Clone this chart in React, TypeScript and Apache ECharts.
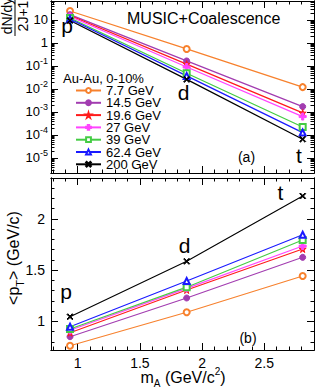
import React, { useEffect, useRef } from "react";
import * as echarts from "echarts";

const FONT = "'Liberation Sans', Arial, Helvetica, sans-serif";

// ---- data ----
const masses = [0.938, 1.876, 2.809]; // p, d, t  (GeV/c^2)
const energies = ["7.7 GeV", "14.5 GeV", "19.6 GeV", "27 GeV", "39 GeV", "62.4 GeV", "200 GeV"];
const colors = ["#f7812d", "#a23cb0", "#ff1a1a", "#ff44ff", "#44cc44", "#1a1aff", "#000000"];

// dN/dy / (2J+1)
const yield77 = [24.6, 0.55, 0.012];
const yield145 = [17.0, 0.165, 0.0017];
const yield196 = [15.7, 0.12, 0.0009];
const yield27 = [14.2, 0.09, 0.00063];
const yield39 = [12.2, 0.048, 0.00022];
const yield624 = [11.0, 0.037, 0.000126];
const yield200 = [9.5, 0.026, 0.000065];

// <pT> (GeV/c)
const pt77 = [0.762, 1.088, 1.442];
const pt145 = [0.85, 1.228, 1.625];
const pt196 = [0.889, 1.306, 1.706];
const pt27 = [0.912, 1.322, 1.735];
const pt39 = [0.925, 1.334, 1.794];
const pt624 = [0.947, 1.394, 1.846];
const pt200 = [1.045, 1.586, 2.224];

const yields = [yield77, yield145, yield196, yield27, yield39, yield624, yield200];
const pts = [pt77, pt145, pt196, pt27, pt39, pt624, pt200];

// ticks
const xMajorTicks = [1, 1.5, 2, 2.5];
const ptMajorTicks = [1, 1.5, 2];
const logMajorTicks = [1e-5, 1e-4, 1e-3, 1e-2, 1e-1, 1, 10];

const X_MIN = 0.785, X_MAX = 2.9;
const Y_LOG_MIN = 2.2e-6, Y_LOG_MAX = 67;
const PT_MIN = 0.72, PT_MAX = 2.4;

const range = (a: number, b: number, s: number) => {
  const out: number[] = [];
  for (let v = a; v <= b + 1e-9; v += s) out.push(Math.round(v * 1000) / 1000);
  return out;
};
const xMinorTicks = range(0.8, 2.9, 0.1);
const ptMinorTicks = range(0.8, 2.4, 0.1);
const logMinorTicks: number[] = [];
for (let e = -6; e <= 1; e++)
  for (let k = 2; k <= 9; k++) {
    const v = Number((k * Math.pow(10, e)).toPrecision(3));
    if (v >= Y_LOG_MIN && v <= Y_LOG_MAX) logMinorTicks.push(v);
  }

const STAR = "path://M50,0 L61,35 L98,35 L68,57 L79,91 L50,70 L21,91 L32,57 L2,35 L39,35 Z";
const PLUS = "path://M35,0 H65 V35 H100 V65 H65 V100 H35 V65 H0 V35 H35 Z";
const XMARK = "path://M0,12 L12,0 L50,38 L88,0 L100,12 L62,50 L100,88 L88,100 L50,62 L12,100 L0,88 L38,50 Z";
const symbols = ["emptyCircle", "circle", STAR, PLUS, "emptyRect", "emptyTriangle", XMARK];
const symbolSizes = [6, 6, 7, 7, 6, 6, 6];

function tickAxis(
  grid: number, position: string, type: string, min: number, max: number,
  ticks: number[], len: number, label?: any
) {
  const ax: any = {
    type, gridIndex: grid, position, min, max,
    axisLine: { show: true, onZero: false, lineStyle: { color: "#000", width: 1 } },
    axisTick: { show: true, inside: true, length: len, customValues: ticks, lineStyle: { color: "#000", width: 1 } },
    axisLabel: label ? label : { show: false },
    splitLine: { show: false },
    minorTick: { show: false },
    minorSplitLine: { show: false },
  };
  if (type === "log") ax.logBase = 10;
  return ax;
}

const xLabel = {
  show: true, customValues: xMajorTicks, margin: 6, fontSize: 14, color: "#000", fontFamily: FONT,
  formatter: (v: number) => String(v),
};
const ptLabel = {
  show: true, customValues: ptMajorTicks, margin: 6, fontSize: 14, color: "#000", fontFamily: FONT,
  formatter: (v: number) => String(v),
};
const logLabel = {
  show: true, customValues: logMajorTicks, margin: 3, color: "#000", fontFamily: FONT,
  formatter: (v: number) => {
    const e = Math.round(Math.log10(v));
    if (e === 1) return "{b|10}";
    if (e === 0) return "{b|1}";
    return "{b|10}{s|" + e + "}";
  },
  rich: {
    b: { fontSize: 13, padding: [3, 0, 3, 0], fontFamily: FONT, color: "#000" },
    s: { fontSize: 9, verticalAlign: "top", fontFamily: FONT, color: "#000" },
  },
};

const xAxes = [
  // top panel
  tickAxis(0, "bottom", "value", X_MIN, X_MAX, xMinorTicks, 3.5),
  tickAxis(0, "bottom", "value", X_MIN, X_MAX, xMajorTicks, 7),
  tickAxis(0, "top", "value", X_MIN, X_MAX, xMinorTicks, 3.5),
  tickAxis(0, "top", "value", X_MIN, X_MAX, xMajorTicks, 7),
  // bottom panel
  tickAxis(1, "bottom", "value", X_MIN, X_MAX, xMinorTicks, 3.5),
  tickAxis(1, "bottom", "value", X_MIN, X_MAX, xMajorTicks, 7, xLabel),
  tickAxis(1, "top", "value", X_MIN, X_MAX, xMinorTicks, 3.5),
  tickAxis(1, "top", "value", X_MIN, X_MAX, xMajorTicks, 7),
];
const yAxes = [
  tickAxis(0, "left", "log", Y_LOG_MIN, Y_LOG_MAX, logMinorTicks, 3.5),
  tickAxis(0, "left", "log", Y_LOG_MIN, Y_LOG_MAX, logMajorTicks, 7, logLabel),
  tickAxis(0, "right", "log", Y_LOG_MIN, Y_LOG_MAX, logMinorTicks, 3.5),
  tickAxis(0, "right", "log", Y_LOG_MIN, Y_LOG_MAX, logMajorTicks, 7),
  tickAxis(1, "left", "value", PT_MIN, PT_MAX, ptMinorTicks, 3.5),
  tickAxis(1, "left", "value", PT_MIN, PT_MAX, ptMajorTicks, 7, ptLabel),
  tickAxis(1, "right", "value", PT_MIN, PT_MAX, ptMinorTicks, 3.5),
  tickAxis(1, "right", "value", PT_MIN, PT_MAX, ptMajorTicks, 7),
];

const series: any[] = [];
energies.forEach((name, i) => {
  series.push({
    type: "line", name, xAxisIndex: 0, yAxisIndex: 0,
    data: masses.map((m, j) => [m, yields[i][j]]),
    symbol: symbols[i], symbolSize: symbolSizes[i],
    lineStyle: { color: colors[i], width: 1.3 },
    itemStyle: { color: colors[i], borderColor: colors[i], borderWidth: 1 },
    emphasis: { disabled: true }, silent: true,
  });
});
energies.forEach((name, i) => {
  series.push({
    type: "line", name, xAxisIndex: 4, yAxisIndex: 4,
    data: masses.map((m, j) => [m, pts[i][j]]),
    symbol: symbols[i], symbolSize: symbolSizes[i],
    lineStyle: { color: colors[i], width: 1.1 },
    itemStyle: { color: colors[i], borderColor: colors[i], borderWidth: 1 },
    emphasis: { disabled: true }, silent: true,
  });
});

const txt = (text: string, x: number, y: number, fontSize: number, align = "center") => ({
  type: "text", x, y, silent: true,
  style: { text, fontSize, fontFamily: FONT, fill: "#000", align, verticalAlign: "middle" },
});

const graphic: any[] = [
  txt("MUSIC+Coalescence", 127, 18, 16, "left"),
  txt("Au-Au, 0-10%", 63, 78, 13, "left"),
  txt("p", 67, 25.5, 21),
  txt("d", 183.5, 92.5, 21),
  txt("t", 299, 155, 21),
  txt("(a)", 246.5, 157, 14),
  txt("p", 66, 291, 21),
  txt("d", 184.5, 245, 21),
  txt("t", 280.5, 192.5, 21),
  txt("(b)", 248, 338, 14),
  {
    type: "group", x: 15, y: 16, rotation: Math.PI / 2, silent: true,
    children: [
      { type: "text", x: 0, y: -1, style: { text: "dN/dy", fontSize: 14, fontFamily: FONT, fill: "#000", align: "center", verticalAlign: "bottom" } },
      { type: "line", shape: { x1: -20, y1: 0, x2: 20, y2: 0 }, style: { stroke: "#000", lineWidth: 1 } },
      { type: "text", x: 0, y: 1, style: { text: "2J+1", fontSize: 14, fontFamily: FONT, fill: "#000", align: "center", verticalAlign: "top" } },
    ],
  },
  {
    type: "text", x: 13, y: 258, rotation: Math.PI / 2, silent: true,
    style: {
      text: "{b|<p}{sub|T}{b|> (GeV/c)}", align: "center", verticalAlign: "middle", fontFamily: FONT, fill: "#000",
      rich: {
        b: { fontSize: 16, padding: [4, 0, 4, 0], fontFamily: FONT, fill: "#000" },
        sub: { fontSize: 11, verticalAlign: "bottom", fontFamily: FONT, fill: "#000" },
      },
    },
  },
  {
    type: "text", x: 183, y: 377, silent: true,
    style: {
      text: "{b|m}{sub|A}{b| (GeV/c}{sup|2}{b|)}", align: "center", verticalAlign: "middle", fontFamily: FONT, fill: "#000",
      rich: {
        b: { fontSize: 16, padding: [3, 0, 3, 0], fontFamily: FONT, fill: "#000" },
        sub: { fontSize: 10, verticalAlign: "bottom", fontFamily: FONT, fill: "#000" },
        sup: { fontSize: 10, verticalAlign: "top", fontFamily: FONT, fill: "#000" },
      },
    },
  },
];

const option: any = {
  animation: false,
  backgroundColor: "#fff",
  textStyle: { fontFamily: FONT },
  grid: [
    { left: 51, top: 1, width: 263, height: 172, show: false, containLabel: false, outerBoundsMode: "none" },
    { left: 51, top: 178, width: 263, height: 172, show: false, containLabel: false, outerBoundsMode: "none" },
  ],
  xAxis: xAxes,
  yAxis: yAxes,
  legend: {
    data: energies,
    orient: "vertical",
    left: 75,
    top: 84,
    padding: 0,
    itemWidth: 25,
    itemHeight: 6,
    itemGap: -0.7,
    selectedMode: false,
    textStyle: { fontSize: 13, lineHeight: 12, fontFamily: FONT, color: "#000" },
  },
  series,
  graphic,
};

export default function App() {
  const ref = useRef<HTMLDivElement>(null);
  useEffect(() => {
    const chart = echarts.init(ref.current!, null, { renderer: "svg" });
    chart.setOption(option);
    return () => chart.dispose();
  }, []);
  return <div ref={ref} style={{ width: 315, height: 387, position: "absolute", left: 0, top: 0 }} />;
}
